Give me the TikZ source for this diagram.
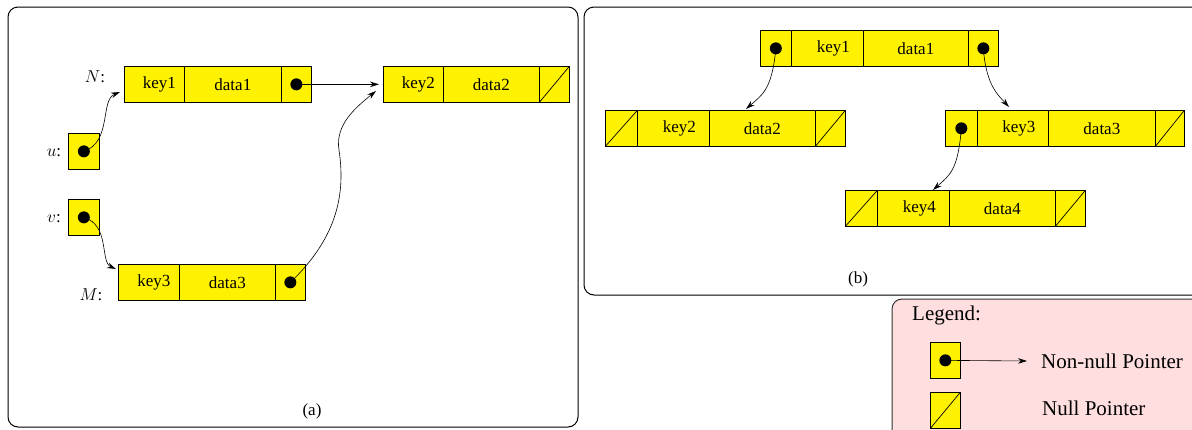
\documentclass[tikz,border=0pt]{standalone}
\usepackage{fontspec}
\setmainfont{Liberation Serif}
\usetikzlibrary{arrows.meta}
\definecolor{legendpink}{RGB}{255,222,224}
\begin{document}
\begin{tikzpicture}[x=1pt,y=-1pt,
  cell/.style={draw, fill=yellow, line width=0.7pt, minimum height=36pt, inner sep=0pt,
    anchor=north west, font=\fontsize{17}{20}\selectfont},
  ptrcell/.style={cell, path picture={\fill[black] (path picture bounding box.center) circle (6pt);}},
  nullcell/.style={cell, path picture={\draw[black, line width=0.7pt] (path picture bounding box.south west) -- (path picture bounding box.north east);}},
  frame/.style={draw, line width=1pt, rounded corners=10pt},
  lbl/.style={font=\fontsize{17}{20}\selectfont, inner sep=0pt},
  biglbl/.style={font=\fontsize{21}{24}\selectfont, inner sep=0pt, anchor=west},
  ptr/.style={-{Stealth[length=9pt,width=5.5pt,inset=3pt]}, line width=0.6pt}
]
\useasboundingbox (0,0) rectangle (1192,429);
\clip (0,0) rectangle (1192,429);

% frames
\draw[frame] (8,7) rectangle (578,427);
\draw[frame] (584,7) rectangle (1215,295);
\draw[frame, fill=legendpink, draw=black!80] (892,299) rectangle (1215,460);

% ---------- panel (a) ----------
\node[cell, minimum width=60pt] (n1k) at (124,66) {\kern10pt key1};
\node[cell, minimum width=97pt] (n1d) at (184,66) {data1};
\node[ptrcell, minimum width=30pt] (n1p) at (281,66) {};

\node[cell, minimum width=60pt] (n2k) at (383,66) {\kern10pt key2};
\node[cell, minimum width=96pt] (n2d) at (443,66) {data2};
\node[nullcell, minimum width=30pt] (n2n) at (539,66) {};

\node[ptrcell, minimum width=31pt] (ubox) at (68,133) {};
\node[ptrcell, minimum width=31pt] (vbox) at (68,199) {};

\node[cell, minimum width=61pt] (n3k) at (118,264) {\kern10pt key3};
\node[cell, minimum width=96pt] (n3d) at (179,264) {data3};
\node[ptrcell, minimum width=30pt] (n3p) at (275,264) {};

\node[lbl] (lN) at (95,77) {$N$:};
\node[lbl] (lu) at (54,153) {$u$:};
\node[lbl] (lv) at (54,219) {$v$:};
\node[lbl] (lM) at (91,295) {$M$:};
\node[lbl] (capa) at (312,411) {(a)};

\coordinate (tipu) at (120,92);
\coordinate (tipv) at (116,269);
\coordinate (tipm) at (376,91);
\coordinate (midm) at (339,150);

\draw[ptr] (n1p.center) -- ([xshift=-4pt]n2k.west);
\draw[ptr] (ubox.center) .. controls (112,142) and (100,100) .. (tipu);
\draw[ptr] (vbox.center) .. controls (110,225) and (100,262) .. (tipv);
\draw[ptr] (n3p.center) .. controls (340,235) and (345,190) .. (midm)
  .. controls (335,125) and (355,108) .. (tipm);

% ---------- panel (b) ----------
\node[ptrcell, minimum width=31pt] (t1l) at (760,30) {};
\node[cell, minimum width=72pt] (t1k) at (791,30) {\kern12pt key1};
\node[cell, minimum width=105pt] (t1d) at (863,30) {data1};
\node[ptrcell, minimum width=30pt] (t1r) at (968,30) {};

\node[nullcell, minimum width=32pt] (t2l) at (605,110) {};
\node[cell, minimum width=72pt] (t2k) at (637,110) {\kern12pt key2};
\node[cell, minimum width=106pt] (t2d) at (709,110) {data2};
\node[nullcell, minimum width=30pt] (t2r) at (815,110) {};

\node[ptrcell, minimum width=32pt] (t3l) at (945,110) {};
\node[cell, minimum width=71pt] (t3k) at (977,110) {\kern12pt key3};
\node[cell, minimum width=107pt] (t3d) at (1048,110) {data3};
\node[nullcell, minimum width=29pt] (t3r) at (1155,110) {};

\node[nullcell, minimum width=32pt] (t4l) at (845,190) {};
\node[cell, minimum width=72pt] (t4k) at (877,190) {\kern12pt key4};
\node[cell, minimum width=106pt] (t4d) at (949,190) {data4};
\node[nullcell, minimum width=30pt] (t4r) at (1055,190) {};

\node[lbl] (capb) at (858,279) {(b)};

\coordinate (tipb1) at (746,109);
\coordinate (tipb2) at (1009,107);
\coordinate (tipb3) at (933,190);

\draw[ptr] (t1l.center) .. controls (772,90) and (762,95) .. (tipb1);
\draw[ptr] (t1r.center) .. controls (986,85) and (998,95) .. (tipb2);
\draw[ptr] (t3l.center) .. controls (958,170) and (950,175) .. (tipb3);

% ---------- legend ----------
\node[biglbl] (leg) at (912,315) {Legend:};
\node[ptrcell, minimum width=30pt] (lp) at (930,342) {};
\node[nullcell, minimum width=30pt] (ln) at (930,392) {};
\coordinate (tipl) at (1027,361);
\draw[ptr] (lp.center) -- (tipl);
\node[biglbl] (lnn) at (1041,361) {Non-null Pointer};
\node[biglbl] (lnl) at (1042,408) {Null Pointer};
\end{tikzpicture}
\end{document}
